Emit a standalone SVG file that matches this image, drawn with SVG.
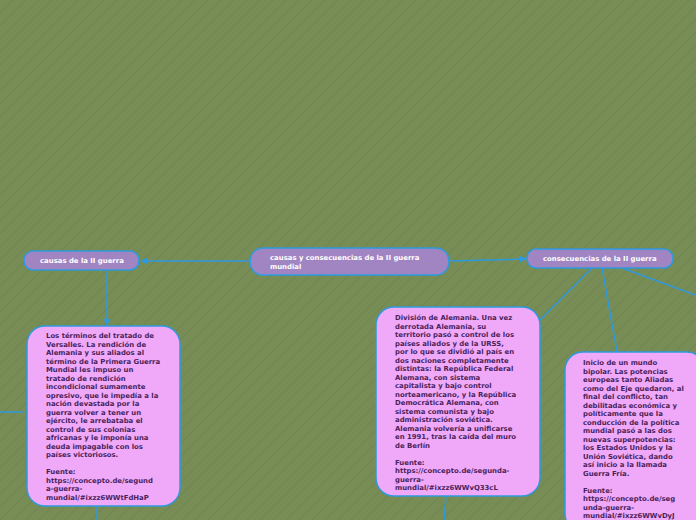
<svg xmlns="http://www.w3.org/2000/svg" width="696" height="520" viewBox="0 0 696 520">
<defs>
<pattern id="stripes" width="13" height="13" patternUnits="userSpaceOnUse">
<rect width="13" height="13" fill="#778d55"/>
<path d="M-1,14 L14,-1 M-1,1 L1,-1 M12,14 L14,12" stroke="#6e8450" stroke-width="1"/>
</pattern>
<marker id="arr" viewBox="0 0 10 10" refX="9" refY="5" markerWidth="7" markerHeight="7" orient="auto" markerUnits="userSpaceOnUse">
<path d="M0,0 L10,5 L0,10 z" fill="#2e9ade"/>
</marker>
</defs>
<style>
.topic{fill:#a085c2;stroke:#2e9ade;stroke-width:1.5}
.box{fill:#f0a9f8;stroke:#2e9ade;stroke-width:1.5}
.tt{font-family:"DejaVu Sans",Verdana,sans-serif;font-weight:bold;font-size:6.9px;fill:#ffffff}
.bt{font-family:"DejaVu Sans",Verdana,sans-serif;font-weight:bold;font-size:6.9px;fill:#4a1f5c}
.edge{stroke:#2e9ade;stroke-width:1.5;fill:none}
</style>
<rect width="696" height="520" fill="url(#stripes)"/>
<g id="connectors">
<line class="edge" x1="250" y1="261" x2="141" y2="261" marker-end="url(#arr)"/>
<line class="edge" x1="449" y1="261" x2="526" y2="259" marker-end="url(#arr)"/>
<line class="edge" x1="107" y1="270" x2="107" y2="325" marker-end="url(#arr)"/>
<line class="edge" x1="592" y1="268" x2="540" y2="320"/>
<line class="edge" x1="602" y1="268" x2="617" y2="352"/>
<line class="edge" x1="622" y1="268" x2="698" y2="296"/>
<line class="edge" x1="0" y1="412" x2="23" y2="412"/>
<line class="edge" x1="97" y1="506" x2="97" y2="520"/>
<line class="edge" x1="446" y1="496" x2="444" y2="520"/>
</g>
<g id="central">
<rect class="topic" x="250" y="248" width="199" height="27" rx="13"/>
<text class="tt"><tspan x="270" y="260">causas y consecuencias de la II guerra</tspan><tspan x="270" y="269">mundial</tspan></text>
</g>
<g id="causas">
<rect class="topic" x="24" y="251" width="115" height="19" rx="9"/>
<text class="tt" x="40" y="263">causas de la II guerra</text>
</g>
<g id="consecuencias">
<rect class="topic" x="527" y="249" width="146" height="19" rx="9"/>
<text class="tt" x="543" y="261">consecuencias de la II guerra</text>
</g>
<g id="versalles">
<rect class="box" x="27" y="326" width="153" height="180" rx="18"/>
<text class="bt">
<tspan x="46" y="338">Los términos del tratado de</tspan>
<tspan x="46" y="346.5">Versalles. La rendición de</tspan>
<tspan x="46" y="355">Alemania y sus aliados al</tspan>
<tspan x="46" y="363.5">término de la Primera Guerra</tspan>
<tspan x="46" y="372">Mundial les impuso un</tspan>
<tspan x="46" y="380.5">tratado de rendición</tspan>
<tspan x="46" y="389">incondicional sumamente</tspan>
<tspan x="46" y="397.5">opresivo, que le impedía a la</tspan>
<tspan x="46" y="406">nación devastada por la</tspan>
<tspan x="46" y="414.5">guerra volver a tener un</tspan>
<tspan x="46" y="423">ejército, le arrebataba el</tspan>
<tspan x="46" y="431.5">control de sus colonias</tspan>
<tspan x="46" y="440">africanas y le imponía una</tspan>
<tspan x="46" y="448.5">deuda impagable con los</tspan>
<tspan x="46" y="457">países victoriosos.</tspan>
<tspan x="46" y="474">Fuente:</tspan>
<tspan x="46" y="482.5">https://concepto.de/segund</tspan>
<tspan x="46" y="491">a-guerra-</tspan>
<tspan x="46" y="499.5">mundial/#ixzz6WWtFdHaP</tspan>
</text>
</g>
<g id="division">
<rect class="box" x="376" y="307" width="164" height="189" rx="18"/>
<text class="bt">
<tspan x="395" y="320">División de Alemania. Una vez</tspan>
<tspan x="395" y="328.5">derrotada Alemania, su</tspan>
<tspan x="395" y="337">territorio pasó a control de los</tspan>
<tspan x="395" y="345.5">países aliados y de la URSS,</tspan>
<tspan x="395" y="354">por lo que se dividió al país en</tspan>
<tspan x="395" y="362.5">dos naciones completamente</tspan>
<tspan x="395" y="371">distintas: la República Federal</tspan>
<tspan x="395" y="379.5">Alemana, con sistema</tspan>
<tspan x="395" y="388">capitalista y bajo control</tspan>
<tspan x="395" y="396.5">norteamericano, y la República</tspan>
<tspan x="395" y="405">Democrática Alemana, con</tspan>
<tspan x="395" y="413.5">sistema comunista y bajo</tspan>
<tspan x="395" y="422">administración soviética.</tspan>
<tspan x="395" y="430.5">Alemania volvería a unificarse</tspan>
<tspan x="395" y="439">en 1991, tras la caída del muro</tspan>
<tspan x="395" y="447.5">de Berlín</tspan>
<tspan x="395" y="464.5">Fuente:</tspan>
<tspan x="395" y="473">https://concepto.de/segunda-</tspan>
<tspan x="395" y="481.5">guerra-</tspan>
<tspan x="395" y="490">mundial/#ixzz6WWvQ33cL</tspan>
</text>
</g>
<g id="bipolar">
<rect class="box" x="565" y="352" width="140" height="180" rx="18"/>
<text class="bt">
<tspan x="583" y="365">Inicio de un mundo</tspan>
<tspan x="583" y="373.5">bipolar. Las potencias</tspan>
<tspan x="583" y="382">europeas tanto Aliadas</tspan>
<tspan x="583" y="390.5">como del Eje quedaron, al</tspan>
<tspan x="583" y="399">final del conflicto, tan</tspan>
<tspan x="583" y="407.5">debilitadas económica y</tspan>
<tspan x="583" y="416">políticamente que la</tspan>
<tspan x="583" y="424.5">conducción de la política</tspan>
<tspan x="583" y="433">mundial pasó a las dos</tspan>
<tspan x="583" y="441.5">nuevas superpotencias:</tspan>
<tspan x="583" y="450">los Estados Unidos y la</tspan>
<tspan x="583" y="458.5">Unión Soviética, dando</tspan>
<tspan x="583" y="467">así inicio a la llamada</tspan>
<tspan x="583" y="475.5">Guerra Fría.</tspan>
<tspan x="583" y="492.5">Fuente:</tspan>
<tspan x="583" y="501">https://concepto.de/seg</tspan>
<tspan x="583" y="509.5">unda-guerra-</tspan>
<tspan x="583" y="518">mundial/#ixzz6WWvDyJ</tspan>
</text>
</g>
</svg>
